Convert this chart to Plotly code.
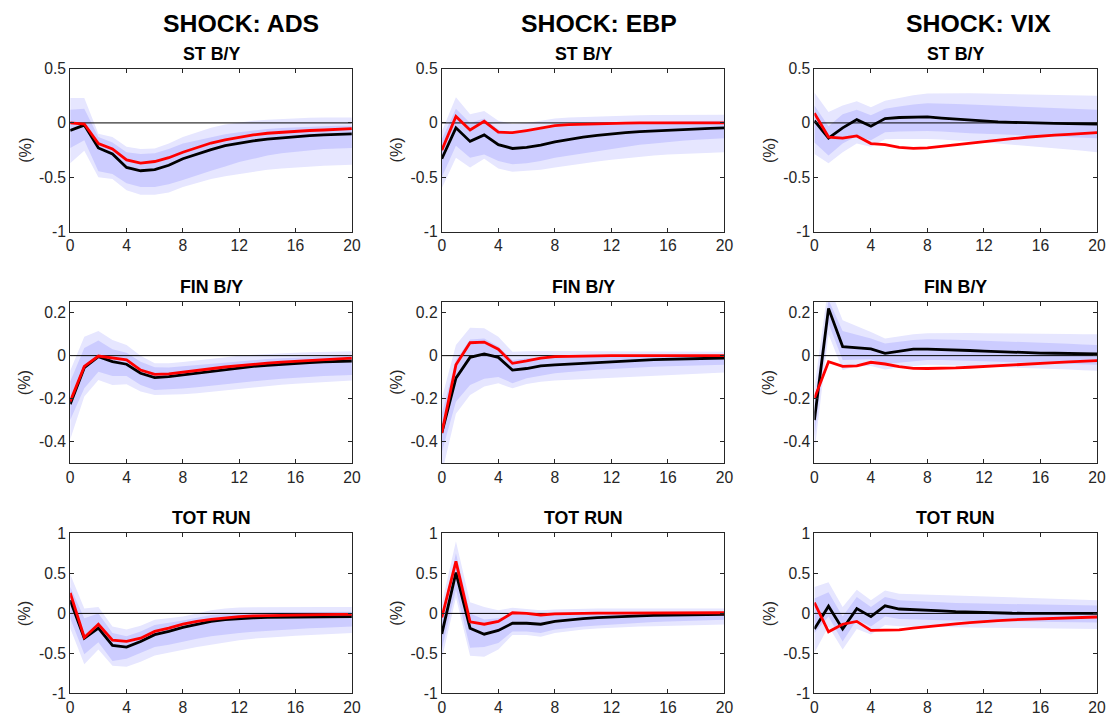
import plotly.graph_objects as go

W, H = 1109, 721
HORIZON = list(range(21))
SHOCKS = ["SHOCK: ADS", "SHOCK: EBP", "SHOCK: VIX"]
VARIABLES = ["ST B/Y", "FIN B/Y", "TOT RUN"]
X_TICKS = [0, 4, 8, 12, 16, 20]
Y_TICKS = [[-1, -0.5, 0, 0.5], [-0.4, -0.2, 0, 0.2], [-1, -0.5, 0, 0.5, 1]]
Y_TICKTEXT = [["-1", "-0.5", "0", "0.5"], ["-0.4", "-0.2", "0", "0.2"], ["-1", "-0.5", "0", "0.5", "1"]]
Y_RANGES = [[-1, 0.5], [-0.5, 0.25], [-1, 1]]

# ---------- ST B/Y ----------
ADS_ST_BLACK = [-0.07,-0.02,-0.23,-0.285,-0.41,-0.44,-0.43,-0.39,-0.33,-0.285,-0.245,-0.21,-0.185,-0.165,-0.15,-0.137,-0.125,-0.117,-0.11,-0.105,-0.10]
ADS_ST_RED = [0.0,-0.01,-0.19,-0.24,-0.34,-0.37,-0.355,-0.32,-0.27,-0.225,-0.185,-0.155,-0.13,-0.11,-0.095,-0.085,-0.077,-0.07,-0.065,-0.058,-0.052]
ADS_ST_HI90 = [0.23,0.23,-0.10,-0.13,-0.22,-0.24,-0.235,-0.19,-0.13,-0.085,-0.045,-0.015,0.005,0.02,0.03,0.038,0.045,0.048,0.05,0.05,0.05]
ADS_ST_HI68 = [0.12,0.13,-0.13,-0.18,-0.27,-0.285,-0.28,-0.24,-0.19,-0.16,-0.13,-0.105,-0.085,-0.068,-0.055,-0.047,-0.04,-0.035,-0.03,-0.027,-0.025]
ADS_ST_LO68 = [-0.23,-0.16,-0.445,-0.47,-0.555,-0.59,-0.59,-0.565,-0.525,-0.48,-0.44,-0.4,-0.36,-0.33,-0.3,-0.28,-0.265,-0.25,-0.24,-0.235,-0.23]
ADS_ST_LO90 = [-0.37,-0.255,-0.5,-0.515,-0.62,-0.66,-0.66,-0.64,-0.59,-0.55,-0.515,-0.49,-0.47,-0.45,-0.43,-0.42,-0.41,-0.4,-0.395,-0.39,-0.385]

EBP_ST_BLACK = [-0.33,-0.045,-0.17,-0.11,-0.2,-0.235,-0.225,-0.205,-0.175,-0.15,-0.13,-0.115,-0.1,-0.09,-0.08,-0.073,-0.066,-0.06,-0.055,-0.05,-0.045]
EBP_ST_RED = [-0.25,0.06,-0.065,0.015,-0.085,-0.09,-0.07,-0.045,-0.025,-0.015,-0.01,-0.006,-0.004,-0.002,0.0,0.0,0.0,0.0,0.0,0.0,0.0]
EBP_ST_HI90 = [-0.08,0.235,0.08,0.11,0.02,-0.01,0.0,0.02,0.04,0.05,0.055,0.06,0.065,0.068,0.07,0.072,0.073,0.074,0.075,0.075,0.075]
EBP_ST_HI68 = [-0.15,0.13,0.0,0.04,-0.06,-0.09,-0.08,-0.06,-0.04,-0.03,-0.02,-0.01,-0.005,0.0,0.005,0.01,0.012,0.015,0.017,0.019,0.02]
EBP_ST_LO68 = [-0.5,-0.21,-0.32,-0.29,-0.35,-0.38,-0.37,-0.35,-0.32,-0.3,-0.28,-0.26,-0.24,-0.22,-0.2,-0.19,-0.175,-0.165,-0.155,-0.145,-0.14]
EBP_ST_LO90 = [-0.6,-0.32,-0.41,-0.33,-0.42,-0.45,-0.44,-0.43,-0.41,-0.39,-0.37,-0.355,-0.34,-0.325,-0.31,-0.3,-0.29,-0.285,-0.28,-0.275,-0.27]

VIX_ST_BLACK = [0.02,-0.14,-0.045,0.03,-0.03,0.04,0.05,0.055,0.055,0.045,0.035,0.025,0.018,0.01,0.005,0.0,-0.003,-0.005,-0.007,-0.008,-0.01]
VIX_ST_RED = [0.09,-0.13,-0.14,-0.12,-0.19,-0.2,-0.225,-0.235,-0.23,-0.215,-0.2,-0.185,-0.17,-0.157,-0.145,-0.132,-0.12,-0.112,-0.105,-0.097,-0.09]
VIX_ST_HI90 = [0.28,0.1,0.16,0.2,0.145,0.205,0.23,0.255,0.27,0.272,0.272,0.272,0.27,0.268,0.265,0.262,0.26,0.257,0.255,0.252,0.25]
VIX_ST_HI68 = [0.16,-0.03,0.08,0.12,0.07,0.13,0.15,0.17,0.18,0.18,0.175,0.17,0.165,0.16,0.155,0.15,0.14,0.135,0.13,0.125,0.12]
VIX_ST_LO68 = [-0.18,-0.3,-0.19,-0.12,-0.16,-0.085,-0.08,-0.075,-0.075,-0.08,-0.09,-0.095,-0.1,-0.105,-0.115,-0.12,-0.125,-0.13,-0.135,-0.138,-0.14]
VIX_ST_LO90 = [-0.285,-0.37,-0.27,-0.19,-0.22,-0.15,-0.148,-0.145,-0.148,-0.152,-0.16,-0.17,-0.18,-0.19,-0.2,-0.21,-0.22,-0.23,-0.245,-0.257,-0.27]

# ---------- FIN B/Y ----------
ADS_FIN_BLACK = [-0.226,-0.056,-0.005,-0.028,-0.04,-0.082,-0.102,-0.098,-0.09,-0.082,-0.073,-0.065,-0.057,-0.05,-0.045,-0.04,-0.036,-0.032,-0.029,-0.027,-0.025]
ADS_FIN_RED = [-0.214,-0.05,-0.002,-0.012,-0.02,-0.067,-0.087,-0.085,-0.078,-0.07,-0.061,-0.053,-0.046,-0.04,-0.035,-0.03,-0.026,-0.022,-0.018,-0.015,-0.012]
ADS_FIN_HI90 = [-0.07,0.088,0.115,0.073,0.05,0.0,-0.035,-0.035,-0.03,-0.022,-0.014,-0.006,0.0,0.004,0.008,0.011,0.014,0.016,0.018,0.019,0.02]
ADS_FIN_HI68 = [-0.12,0.035,0.07,0.03,0.014,-0.028,-0.054,-0.055,-0.05,-0.044,-0.037,-0.031,-0.025,-0.02,-0.016,-0.012,-0.009,-0.006,-0.004,-0.002,0.0]
ADS_FIN_LO68 = [-0.3,-0.152,-0.075,-0.095,-0.095,-0.137,-0.16,-0.158,-0.153,-0.147,-0.14,-0.133,-0.125,-0.119,-0.113,-0.108,-0.103,-0.099,-0.095,-0.092,-0.09]
ADS_FIN_LO90 = [-0.39,-0.19,-0.113,-0.137,-0.133,-0.167,-0.183,-0.183,-0.18,-0.175,-0.168,-0.162,-0.155,-0.148,-0.142,-0.136,-0.131,-0.127,-0.123,-0.119,-0.116]

EBP_FIN_BLACK = [-0.36,-0.105,-0.008,0.008,-0.008,-0.067,-0.06,-0.048,-0.043,-0.039,-0.035,-0.031,-0.028,-0.025,-0.022,-0.019,-0.017,-0.015,-0.013,-0.012,-0.011]
EBP_FIN_RED = [-0.36,-0.043,0.06,0.063,0.03,-0.036,-0.025,-0.012,-0.005,-0.003,-0.002,-0.001,0.0,0.0,0.0,0.0,0.0,0.0,0.0,0.0,0.0]
EBP_FIN_HI90 = [-0.2,0.05,0.13,0.127,0.088,0.018,0.02,0.022,0.022,0.021,0.02,0.02,0.02,0.02,0.019,0.019,0.019,0.018,0.018,0.018,0.018]
EBP_FIN_HI68 = [-0.27,-0.02,0.075,0.08,0.042,-0.02,-0.012,-0.008,-0.005,-0.003,-0.002,0.0,0.001,0.002,0.003,0.003,0.004,0.004,0.005,0.005,0.005]
EBP_FIN_LO68 = [-0.45,-0.215,-0.137,-0.108,-0.1,-0.128,-0.105,-0.092,-0.082,-0.076,-0.07,-0.066,-0.062,-0.058,-0.055,-0.052,-0.05,-0.048,-0.046,-0.044,-0.043]
EBP_FIN_LO90 = [-0.55,-0.27,-0.183,-0.144,-0.128,-0.152,-0.132,-0.121,-0.116,-0.113,-0.11,-0.106,-0.102,-0.098,-0.095,-0.092,-0.089,-0.086,-0.083,-0.08,-0.078]

VIX_FIN_BLACK = [-0.3,0.22,0.042,0.036,0.031,0.011,0.022,0.03,0.03,0.029,0.027,0.024,0.021,0.018,0.015,0.013,0.012,0.011,0.01,0.009,0.008]
VIX_FIN_RED = [-0.2,-0.028,-0.05,-0.048,-0.031,-0.039,-0.051,-0.059,-0.06,-0.06,-0.057,-0.054,-0.051,-0.047,-0.043,-0.04,-0.036,-0.033,-0.029,-0.026,-0.023]
VIX_FIN_HI90 = [-0.15,0.33,0.165,0.138,0.11,0.08,0.09,0.1,0.104,0.105,0.105,0.105,0.104,0.104,0.103,0.103,0.102,0.102,0.101,0.1,0.1]
VIX_FIN_HI68 = [-0.22,0.26,0.115,0.096,0.08,0.057,0.065,0.073,0.076,0.076,0.074,0.072,0.07,0.068,0.066,0.063,0.06,0.058,0.055,0.052,0.05]
VIX_FIN_LO68 = [-0.38,0.15,-0.02,-0.017,-0.017,-0.039,-0.032,-0.025,-0.02,-0.02,-0.022,-0.024,-0.026,-0.028,-0.03,-0.032,-0.034,-0.036,-0.039,-0.041,-0.043]
VIX_FIN_LO90 = [-0.45,0.1,-0.067,-0.05,-0.048,-0.064,-0.055,-0.048,-0.043,-0.044,-0.046,-0.048,-0.05,-0.052,-0.054,-0.056,-0.059,-0.062,-0.065,-0.068,-0.07]

# ---------- TOT RUN ----------
ADS_TOT_BLACK = [0.165,-0.31,-0.185,-0.4,-0.42,-0.35,-0.265,-0.225,-0.175,-0.135,-0.1,-0.078,-0.062,-0.055,-0.05,-0.047,-0.045,-0.043,-0.042,-0.041,-0.04]
ADS_TOT_RED = [0.255,-0.3,-0.135,-0.335,-0.35,-0.31,-0.225,-0.185,-0.135,-0.1,-0.075,-0.055,-0.04,-0.032,-0.027,-0.023,-0.02,-0.017,-0.015,-0.013,-0.012]
ADS_TOT_HI90 = [0.49,0.06,0.08,-0.165,-0.2,-0.155,-0.08,-0.06,-0.04,0.0,0.04,0.06,0.075,0.078,0.08,0.08,0.08,0.08,0.08,0.08,0.08]
ADS_TOT_HI68 = [0.33,-0.06,0.0,-0.245,-0.285,-0.225,-0.145,-0.12,-0.09,-0.055,-0.02,-0.008,0.0,0.006,0.01,0.013,0.015,0.017,0.018,0.019,0.02]
ADS_TOT_LO68 = [-0.06,-0.51,-0.36,-0.595,-0.565,-0.49,-0.42,-0.39,-0.35,-0.315,-0.285,-0.263,-0.245,-0.23,-0.217,-0.205,-0.195,-0.185,-0.178,-0.171,-0.165]
ADS_TOT_LO90 = [-0.185,-0.635,-0.45,-0.655,-0.665,-0.605,-0.525,-0.49,-0.45,-0.42,-0.39,-0.36,-0.335,-0.315,-0.3,-0.29,-0.28,-0.27,-0.26,-0.252,-0.245]

EBP_TOT_BLACK = [-0.255,0.51,-0.185,-0.26,-0.213,-0.123,-0.123,-0.135,-0.1,-0.08,-0.065,-0.052,-0.042,-0.035,-0.03,-0.025,-0.021,-0.018,-0.015,-0.013,-0.012]
EBP_TOT_RED = [-0.05,0.65,-0.105,-0.135,-0.1,0.008,0.0,-0.02,-0.005,0.0,0.002,0.003,0.004,0.005,0.006,0.006,0.007,0.007,0.008,0.008,0.008]
EBP_TOT_HI90 = [0.12,0.9,0.14,0.08,0.04,0.07,0.055,0.04,0.05,0.055,0.06,0.06,0.06,0.06,0.06,0.06,0.06,0.06,0.06,0.06,0.06]
EBP_TOT_HI68 = [-0.05,0.75,0.0,-0.075,-0.06,0.0,-0.005,-0.015,-0.01,-0.008,-0.006,-0.004,-0.002,0.0,0.002,0.004,0.005,0.006,0.007,0.008,0.008]
EBP_TOT_LO68 = [-0.45,0.3,-0.43,-0.42,-0.37,-0.225,-0.225,-0.245,-0.2,-0.18,-0.165,-0.15,-0.137,-0.125,-0.115,-0.107,-0.1,-0.094,-0.088,-0.084,-0.08]
EBP_TOT_LO90 = [-0.57,0.2,-0.53,-0.54,-0.45,-0.27,-0.27,-0.29,-0.245,-0.22,-0.2,-0.19,-0.18,-0.172,-0.165,-0.16,-0.155,-0.15,-0.146,-0.143,-0.14]

VIX_TOT_BLACK = [-0.195,0.09,-0.195,0.06,-0.04,0.095,0.055,0.05,0.042,0.032,0.022,0.015,0.008,0.004,0.002,0.001,0.0,0.0,0.0,0.0,0.0]
VIX_TOT_RED = [0.135,-0.23,-0.135,-0.1,-0.213,-0.21,-0.205,-0.185,-0.165,-0.147,-0.13,-0.115,-0.1,-0.09,-0.08,-0.074,-0.068,-0.062,-0.056,-0.05,-0.045]
VIX_TOT_HI90 = [0.33,0.39,0.08,0.295,0.165,0.285,0.245,0.24,0.235,0.23,0.225,0.219,0.213,0.207,0.201,0.195,0.189,0.183,0.177,0.171,0.165]
VIX_TOT_HI68 = [0.185,0.265,-0.04,0.205,0.08,0.205,0.165,0.155,0.145,0.137,0.13,0.126,0.122,0.118,0.115,0.112,0.109,0.106,0.104,0.102,0.1]
VIX_TOT_LO68 = [-0.245,-0.04,-0.35,-0.08,-0.165,-0.04,-0.07,-0.078,-0.08,-0.085,-0.09,-0.093,-0.096,-0.099,-0.102,-0.105,-0.107,-0.109,-0.111,-0.113,-0.115]
VIX_TOT_LO90 = [-0.49,-0.165,-0.45,-0.195,-0.265,-0.145,-0.16,-0.165,-0.17,-0.172,-0.174,-0.176,-0.178,-0.18,-0.182,-0.185,-0.187,-0.189,-0.191,-0.193,-0.195]

PANELS = [
    [(ADS_ST_BLACK, ADS_ST_RED, ADS_ST_HI90, ADS_ST_HI68, ADS_ST_LO68, ADS_ST_LO90),
     (EBP_ST_BLACK, EBP_ST_RED, EBP_ST_HI90, EBP_ST_HI68, EBP_ST_LO68, EBP_ST_LO90),
     (VIX_ST_BLACK, VIX_ST_RED, VIX_ST_HI90, VIX_ST_HI68, VIX_ST_LO68, VIX_ST_LO90)],
    [(ADS_FIN_BLACK, ADS_FIN_RED, ADS_FIN_HI90, ADS_FIN_HI68, ADS_FIN_LO68, ADS_FIN_LO90),
     (EBP_FIN_BLACK, EBP_FIN_RED, EBP_FIN_HI90, EBP_FIN_HI68, EBP_FIN_LO68, EBP_FIN_LO90),
     (VIX_FIN_BLACK, VIX_FIN_RED, VIX_FIN_HI90, VIX_FIN_HI68, VIX_FIN_LO68, VIX_FIN_LO90)],
    [(ADS_TOT_BLACK, ADS_TOT_RED, ADS_TOT_HI90, ADS_TOT_HI68, ADS_TOT_LO68, ADS_TOT_LO90),
     (EBP_TOT_BLACK, EBP_TOT_RED, EBP_TOT_HI90, EBP_TOT_HI68, EBP_TOT_LO68, EBP_TOT_LO90),
     (VIX_TOT_BLACK, VIX_TOT_RED, VIX_TOT_HI90, VIX_TOT_HI68, VIX_TOT_LO68, VIX_TOT_LO90)],
]

# ---------- layout geometry (page pixels) ----------
COL_X = [(67, 352), (443, 729), (820, 1106)]
ROW_Y = [(61, 228), (300, 465), (537, 701)]
SHOCK_TITLE_X = [240, 602, 986]
SHOCK_TITLE_Y = 15
YLABEL_X = [21, 397, 774]


def px(xp):
    return xp / W


def py(yp):
    return 1 - yp / H


FONT = "Liberation Sans, Arial, sans-serif"
AXIS_COLOR = "#262626"
OUTER = "rgb(230,230,255)"
INNER = "rgb(204,204,255)"

fig = go.Figure()
layout = dict(
    width=W, height=H, margin=dict(l=0, r=0, t=0, b=0),
    paper_bgcolor="white", plot_bgcolor="white", showlegend=False,
    font=dict(family=FONT, color=AXIS_COLOR),
)
annotations = []

for r in range(3):
    for c in range(3):
        idx = r * 3 + c + 1
        xa = "x" if idx == 1 else f"x{idx}"
        ya = "y" if idx == 1 else f"y{idx}"
        black, red, hi90, hi68, lo68, lo90 = PANELS[r][c]
        common = dict(xaxis=xa, yaxis=ya, mode="lines", hoverinfo="skip")
        fig.add_trace(go.Scatter(x=HORIZON, y=hi90, line=dict(width=0, color=OUTER), **common))
        fig.add_trace(go.Scatter(x=HORIZON, y=lo90, line=dict(width=0, color=OUTER),
                                 fill="tonexty", fillcolor=OUTER, **common))
        fig.add_trace(go.Scatter(x=HORIZON, y=hi68, line=dict(width=0, color=INNER), **common))
        fig.add_trace(go.Scatter(x=HORIZON, y=lo68, line=dict(width=0, color=INNER),
                                 fill="tonexty", fillcolor=INNER, **common))
        fig.add_trace(go.Scatter(x=[HORIZON[0], HORIZON[-1]], y=[0, 0],
                                 line=dict(width=1, color="black"), **common))
        fig.add_trace(go.Scatter(x=HORIZON, y=black, line=dict(width=2.8, color="black"), **common))
        fig.add_trace(go.Scatter(x=HORIZON, y=red, line=dict(width=2.8, color="#ff0000"), **common))

        x0, x1 = COL_X[c]
        y0, y1 = ROW_Y[r]
        axis_common = dict(
            showline=True, linecolor=AXIS_COLOR, linewidth=1, mirror="ticks",
            ticks="inside", ticklen=4, tickcolor=AXIS_COLOR, showgrid=False, zeroline=False,
            tickfont=dict(family=FONT, size=15.7, color=AXIS_COLOR),
        )
        layout["xaxis" if idx == 1 else f"xaxis{idx}"] = dict(
            domain=[px(x0), px(x1)], range=[0, 20], anchor=ya,
            tickvals=X_TICKS, ticktext=[str(t) for t in X_TICKS], **axis_common)
        layout["yaxis" if idx == 1 else f"yaxis{idx}"] = dict(
            domain=[py(y1), py(y0)], range=Y_RANGES[r], anchor=xa,
            tickvals=Y_TICKS[r], ticktext=Y_TICKTEXT[r], **axis_common)

        annotations.append(dict(
            x=px((x0 + x1) / 2), y=py(y0 - 3), xref="paper", yref="paper",
            text=f"<b>{VARIABLES[r]}</b>", showarrow=False, xanchor="center", yanchor="bottom",
            font=dict(family=FONT, size=17.8, color="black")))
        annotations.append(dict(
            x=px(YLABEL_X[c]), y=py((y0 + y1) / 2), xref="paper", yref="paper",
            text="(%)", showarrow=False, textangle=-90, xanchor="center", yanchor="middle",
            font=dict(family=FONT, size=16.2, color=AXIS_COLOR)))

for c in range(3):
    annotations.append(dict(
        x=px(SHOCK_TITLE_X[c]), y=py(SHOCK_TITLE_Y), xref="paper", yref="paper",
        text=f"<b>{SHOCKS[c]}</b>", showarrow=False, xanchor="center", yanchor="middle",
        font=dict(family=FONT, size=24.8, color="black")))

layout["annotations"] = annotations
fig.update_layout(**layout)

PAGE_RESET = (
    "document.documentElement.style.margin='0';"
    "document.body.style.margin='0';"
    "document.documentElement.style.overflow='hidden';"
    "document.body.style.overflow='hidden';"
)
fig.write_html("out.html", post_script=PAGE_RESET, config={"displayModeBar": False})
